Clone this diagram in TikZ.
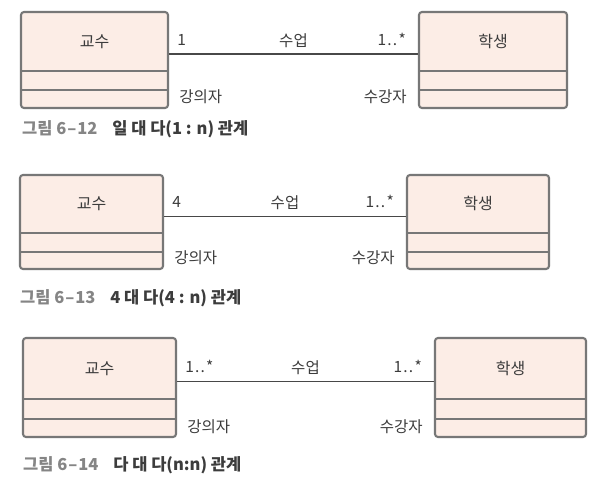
\documentclass[tikz,border=0pt]{standalone}
\usepackage{fontspec}
\setmainfont{Noto Sans CJK KR}
\usetikzlibrary{calc}

\definecolor{boxfill}{HTML}{FCEDE6}
\definecolor{boxline}{HTML}{777777}
\definecolor{assocline}{HTML}{484848}
\definecolor{txt}{HTML}{3C3C3C}
\definecolor{capgray}{HTML}{858585}

\newcommand\many{1\kern1.2pt.\kern1.2pt.\kern1.2pt*}
\newcommand\fignum[1]{\textcolor{capgray}{그림 6\kern1pt–\kern1pt#1}\hspace{0.9em}}

\begin{document}
\begin{tikzpicture}[x=1pt, y=1pt,
  umlclass/.style={draw=boxline, fill=boxfill, line width=2.1pt, rounded corners=3pt, inner sep=0pt,
    path picture={
      \foreach \f in {0.615,0.815}
        \draw[boxline, line width=2.1pt]
        ($(path picture bounding box.north west)!\f!(path picture bounding box.south west)$) --
        ($(path picture bounding box.north east)!\f!(path picture bounding box.south east)$);
    }},
  clsname/.style={text=txt, inner sep=0pt, font=\fontsize{16}{18}\selectfont},
  lbl/.style={text=txt, inner sep=0pt, font=\fontsize{15.5}{18}\selectfont},
  figcap/.style={text=txt, inner sep=0pt, font=\fontsize{16.5}{18}\selectfont\bfseries},
  assoc/.style={draw=assocline, line width=1.3pt},
  ]
  \useasboundingbox[fill=white] (0,0) rectangle (600,483);
  %
  % one to many (1 : n)
  \node[umlclass, minimum width=147, minimum height=96] (p1) at (94.5,423) {};
  \node[umlclass, minimum width=148, minimum height=96] (s1) at (493,423) {};
  \node[clsname] (p1name) at ($(p1.north)!0.31!(p1.south)$) {교수};
  \node[clsname] (s1name) at ($(s1.north)!0.31!(s1.south)$) {학생};
  \draw[assoc] ($(p1.north east)!0.44!(p1.south east)$) coordinate (p1a) -- ($(s1.north west)!0.44!(s1.south west)$) coordinate (s1a);
  \node[lbl, anchor=base west] (m1l) at ($(p1a)+(8,9)$) {1};
  \node[lbl, anchor=base east] (m1r) at ($(s1a)+(-12,9)$) {\many};
  \node[lbl, anchor=base] (n1) at ($(p1a)!0.5!(s1a)+(0,8)$) {수업};
  \node[lbl, anchor=base west] (r1l) at ($(p1.south east)+(10,7)$) {강의자};
  \node[lbl, anchor=base east] (r1r) at ($(s1.south west)+(-11,7)$) {수강자};
  \node[figcap, anchor=base west] (c1) at (22,348) {\fignum{12}일 대 다(1 : n) 관계};
  %
  % four to many (4 : n)
  \node[umlclass, minimum width=143, minimum height=94] (p2) at (91.5,261) {};
  \node[umlclass, minimum width=142, minimum height=94] (s2) at (478,261) {};
  \node[clsname] (p2name) at ($(p2.north)!0.31!(p2.south)$) {교수};
  \node[clsname] (s2name) at ($(s2.north)!0.31!(s2.south)$) {학생};
  \draw[assoc] ($(p2.north east)!0.44!(p2.south east)$) coordinate (p2a) -- ($(s2.north west)!0.44!(s2.south west)$) coordinate (s2a);
  \node[lbl, anchor=base west] (m2l) at ($(p2a)+(8,9)$) {4};
  \node[lbl, anchor=base east] (m2r) at ($(s2a)+(-12,9)$) {\many};
  \node[lbl, anchor=base] (n2) at ($(p2a)!0.5!(s2a)+(0,8)$) {수업};
  \node[lbl, anchor=base west] (r2l) at ($(p2.south east)+(10,7)$) {강의자};
  \node[lbl, anchor=base east] (r2r) at ($(s2.south west)+(-11,7)$) {수강자};
  \node[figcap, anchor=base west] (c2) at (20,180) {\fignum{13}4 대 다(4 : n) 관계};
  %
  % many to many (n : n)
  \node[umlclass, minimum width=153, minimum height=99] (p3) at (99.5,95.5) {};
  \node[umlclass, minimum width=151, minimum height=99] (s3) at (510.5,95.5) {};
  \node[clsname] (p3name) at ($(p3.north)!0.31!(p3.south)$) {교수};
  \node[clsname] (s3name) at ($(s3.north)!0.31!(s3.south)$) {학생};
  \draw[assoc] ($(p3.north east)!0.44!(p3.south east)$) coordinate (p3a) -- ($(s3.north west)!0.44!(s3.south west)$) coordinate (s3a);
  \node[lbl, anchor=base west] (m3l) at ($(p3a)+(8,9)$) {\many};
  \node[lbl, anchor=base east] (m3r) at ($(s3a)+(-12,9)$) {\many};
  \node[lbl, anchor=base] (n3) at ($(p3a)!0.5!(s3a)+(0,8)$) {수업};
  \node[lbl, anchor=base west] (r3l) at ($(p3.south east)+(10,6)$) {강의자};
  \node[lbl, anchor=base east] (r3r) at ($(s3.south west)+(-11,6)$) {수강자};
  \node[figcap, anchor=base west] (c3) at (23,13) {\fignum{14}다 대 다(n:n) 관계};
\end{tikzpicture}
\end{document}
